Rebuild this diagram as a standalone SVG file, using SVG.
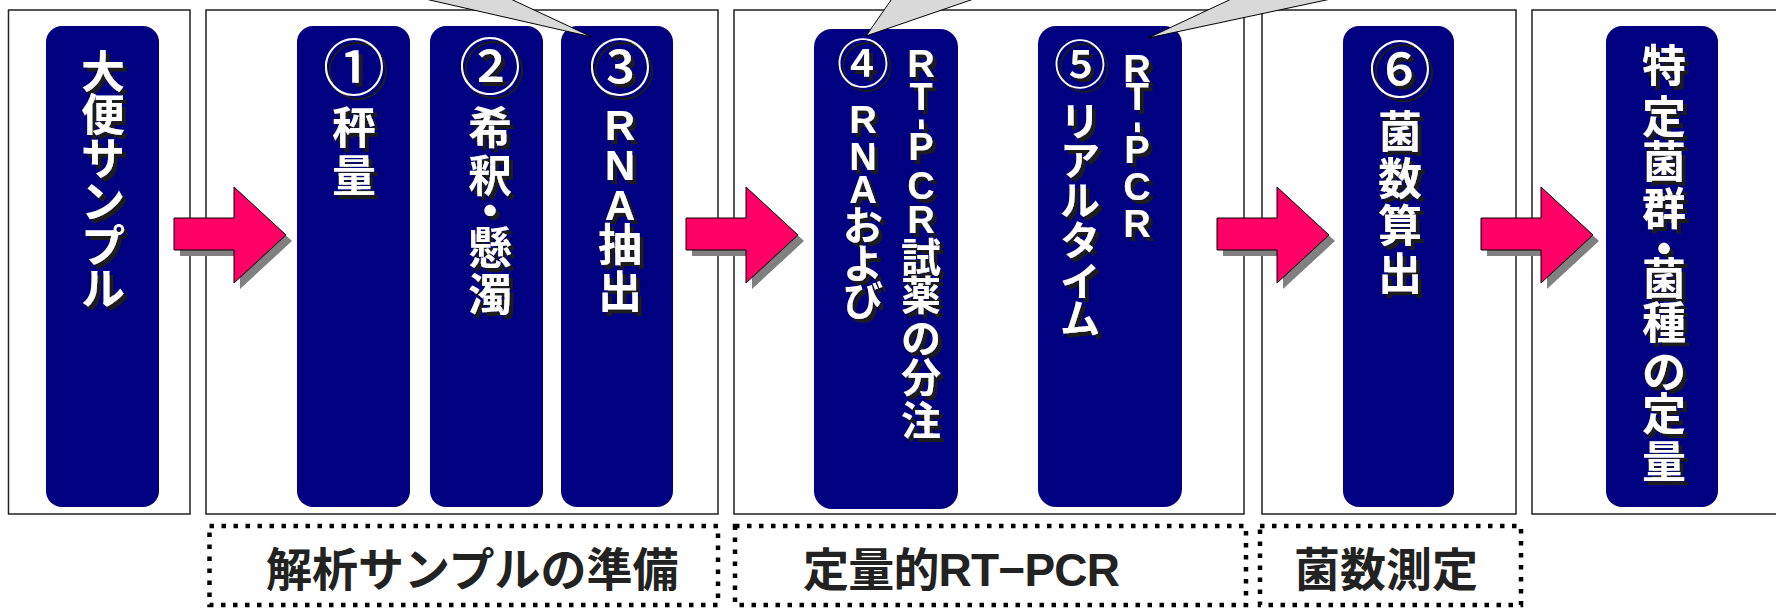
<svg xmlns="http://www.w3.org/2000/svg" xmlns:xlink="http://www.w3.org/1999/xlink" width="1776" height="608" viewBox="0 0 1776 608">
<style>
.frame{fill:#fff;stroke:#222;stroke-width:1.5}
.node{fill:#000080}
.lbl{fill:#fff;font-family:'Liberation Sans','Noto Sans CJK JP',sans-serif;font-weight:bold;text-anchor:middle;filter:url(#sh)}
.big{font-size:44px}
.mid{font-size:40px}
.lat{font-size:42px}
.lat2{font-size:38px}
.cir{font-size:62px;font-family:'Noto Sans CJK JP',sans-serif;font-weight:500}
.cir2{font-size:52px;font-family:'Noto Sans CJK JP',sans-serif;font-weight:500}
.arrow{fill:#FF0066;stroke:#000;stroke-width:1}
.arrsh{fill:#808080}
.callout{fill:#d9d9d9;stroke:#000;stroke-width:1}
.dot{fill:none;stroke:#000;stroke-width:4.5;stroke-dasharray:4.5 7.5}
.cap{fill:#222;font-family:'Liberation Sans','Noto Sans CJK JP',sans-serif;font-size:46px;font-weight:bold}
</style>
<defs>
<filter id="sh" x="-50%" y="-10%" width="200%" height="120%">
<feDropShadow dx="4" dy="4" stdDeviation="0" flood-color="#1a1a1a" flood-opacity="1"/>
</filter>
<path id="arr" d="M0,218 H60 V187 L112,235 L60,283 V250 H0 Z"/>
</defs>
<rect width="1776" height="608" fill="#fff"/>
<g id="frames">
<rect class="frame" x="8.5" y="10" width="181.5" height="504"/>
<rect class="frame" x="206" y="10" width="512" height="504"/>
<rect class="frame" x="734" y="10" width="510" height="504"/>
<rect class="frame" x="1262" y="10" width="254" height="504"/>
<rect class="frame" x="1532" y="10" width="270" height="504"/>
</g>
<g id="node-sample">
<rect class="node" x="46" y="26" width="113" height="481" rx="16"/>
<text class="lbl big"><tspan x="103" y="88">大</tspan><tspan x="103" y="131">便</tspan><tspan x="103" y="175">サ</tspan><tspan x="103" y="218">ン</tspan><tspan x="103" y="262">プ</tspan><tspan x="103" y="305">ル</tspan></text>
</g>
<g id="node-1">
<rect class="node" x="297" y="26" width="113" height="481" rx="16"/>
<text class="lbl big"><tspan class="cir" x="354" y="91">①</tspan><tspan x="354" y="144">秤</tspan><tspan x="354" y="192">量</tspan></text>
</g>
<g id="node-2">
<rect class="node" x="430" y="26" width="113" height="481" rx="16"/>
<text class="lbl big"><tspan class="cir" x="490" y="90">②</tspan><tspan x="490" y="144">希</tspan><tspan x="490" y="192">釈</tspan><tspan x="490" y="227">・</tspan><tspan x="490" y="264">懸</tspan><tspan x="490" y="311">濁</tspan></text>
</g>
<g id="node-3">
<rect class="node" x="561" y="26" width="112" height="481" rx="16"/>
<text class="lbl big"><tspan class="cir" x="620" y="91">③</tspan><tspan class="lat" x="620" y="140">R</tspan><tspan class="lat" x="620" y="180">N</tspan><tspan class="lat" x="620" y="220">A</tspan><tspan x="620" y="261">抽</tspan><tspan x="620" y="308">出</tspan></text>
</g>
<g id="node-4">
<rect class="node" x="814" y="29" width="144" height="480" rx="18"/>
<text class="lbl mid"><tspan class="cir2" x="863" y="83">④</tspan><tspan class="lat2" x="863" y="133">R</tspan><tspan class="lat2" x="863" y="170">N</tspan><tspan class="lat2" x="863" y="203">A</tspan><tspan x="863" y="240">お</tspan><tspan x="863" y="278">よ</tspan><tspan x="863" y="315">び</tspan></text>
<text class="lbl mid"><tspan class="lat2" x="921" y="77">R</tspan><tspan class="lat2" x="921" y="110">T</tspan><tspan class="lat2" x="917" y="118" rotate="90">-</tspan><tspan class="lat2" x="921" y="160">P</tspan><tspan class="lat2" x="921" y="199">C</tspan><tspan class="lat2" x="921" y="233">R</tspan><tspan x="921" y="272">試</tspan><tspan x="921" y="310">薬</tspan><tspan x="921" y="353">の</tspan><tspan x="921" y="392">分</tspan><tspan x="921" y="435">注</tspan></text>
</g>
<g id="node-5">
<rect class="node" x="1038" y="26" width="144" height="481" rx="18"/>
<text class="lbl mid"><tspan class="cir2" x="1080" y="84">⑤</tspan><tspan x="1080" y="136">リ</tspan><tspan x="1080" y="175">ア</tspan><tspan x="1080" y="215">ル</tspan><tspan x="1080" y="255">タ</tspan><tspan x="1080" y="296">イ</tspan><tspan x="1080" y="333">ム</tspan></text>
<text class="lbl mid"><tspan class="lat2" x="1137" y="82">R</tspan><tspan class="lat2" x="1137" y="110">T</tspan><tspan class="lat2" x="1133" y="121" rotate="90">-</tspan><tspan class="lat2" x="1137" y="163">P</tspan><tspan class="lat2" x="1137" y="200">C</tspan><tspan class="lat2" x="1137" y="237">R</tspan></text>
</g>
<g id="node-6">
<rect class="node" x="1343" y="26" width="111" height="481" rx="16"/>
<text class="lbl big"><tspan class="cir" x="1400" y="93">⑥</tspan><tspan x="1400" y="148">菌</tspan><tspan x="1400" y="195">数</tspan><tspan x="1400" y="242">算</tspan><tspan x="1400" y="290">出</tspan></text>
</g>
<g id="node-result">
<rect class="node" x="1606" y="26" width="112" height="481" rx="16"/>
<text class="lbl big"><tspan x="1664" y="82">特</tspan><tspan x="1664" y="133">定</tspan><tspan x="1664" y="178">菌</tspan><tspan x="1664" y="225">群</tspan><tspan x="1664" y="265">・</tspan><tspan x="1664" y="295">菌</tspan><tspan x="1664" y="339">種</tspan><tspan x="1664" y="388">の</tspan><tspan x="1664" y="430">定</tspan><tspan x="1664" y="478">量</tspan></text>
</g>
<g id="connectors">
<use xlink:href="#arr" class="arrsh" transform="translate(180,6)"/>
<use xlink:href="#arr" class="arrow" transform="translate(174,0)"/>
<use xlink:href="#arr" class="arrsh" transform="translate(692,6)"/>
<use xlink:href="#arr" class="arrow" transform="translate(686,0)"/>
<use xlink:href="#arr" class="arrsh" transform="translate(1223,6)"/>
<use xlink:href="#arr" class="arrow" transform="translate(1217,0)"/>
<use xlink:href="#arr" class="arrsh" transform="translate(1487,6)"/>
<use xlink:href="#arr" class="arrow" transform="translate(1481,0)"/>
</g>
<g id="callouts">
<polygon class="callout" points="592,37 342,-20 470,-20"/>
<polygon class="callout" points="866,36 905,-20 1029,-20"/>
<polygon class="callout" points="1148,38 1272,-20 1420,-20"/>
</g>
<g id="stage-prep">
<rect class="dot" x="209.5" y="526" width="508.5" height="79"/>
<text class="cap" x="266" y="586">解析サンプルの準備</text>
</g>
<g id="stage-pcr">
<rect class="dot" x="735" y="526" width="511" height="79"/>
<text class="cap" x="803" y="586" textLength="317" lengthAdjust="spacing">定量的RT−PCR</text>
</g>
<g id="stage-count">
<rect class="dot" x="1260" y="526" width="261" height="79"/>
<text class="cap" x="1294" y="586">菌数測定</text>
</g>
</svg>
